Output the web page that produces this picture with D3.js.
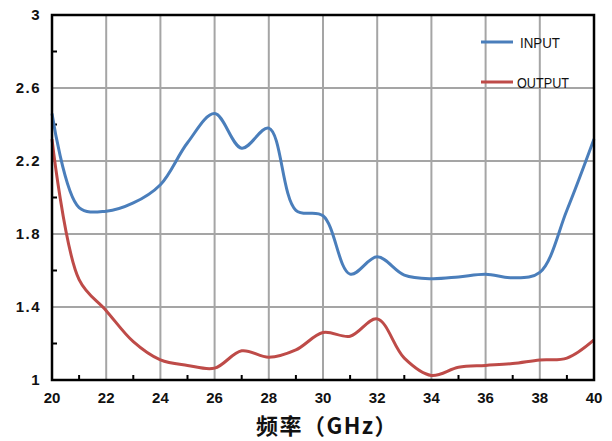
<!DOCTYPE html>
<html>
<head>
<meta charset="utf-8">
<script src="https://cdn.jsdelivr.net/npm/d3@7"></script>
<style>
  body { margin: 0; background: #fff; }
  .tick-label { font-family: "Liberation Sans", Arial, sans-serif; font-weight: bold; font-size: 15px; fill: #111; }
</style>
</head>
<body>
<script>
// frequency points (GHz)
var freq = [20, 21, 22, 23, 24, 25, 26, 27, 28, 29, 30, 31, 32, 33, 34, 35, 36, 37, 38, 39, 40];
// VSWR values
var inputVals = [2.46, 1.945, 1.925, 1.97, 2.07, 2.30, 2.46, 2.27, 2.38, 1.93, 1.90, 1.58, 1.675, 1.575, 1.555, 1.565, 1.58, 1.56, 1.59, 1.93, 2.32];
var outputVals = [2.32, 1.55, 1.38, 1.21, 1.11, 1.08, 1.065, 1.16, 1.125, 1.165, 1.26, 1.24, 1.335, 1.12, 1.025, 1.07, 1.08, 1.09, 1.11, 1.12, 1.22];
var xTicks = [20, 22, 24, 26, 28, 30, 32, 34, 36, 38, 40];
var yTicks = [1, 1.4, 1.8, 2.2, 2.6, 3];
var seriesNames = ["INPUT", "OUTPUT"];
var seriesColors = ["#4a7ebb", "#be4b48"];

window.onload = drawChart();

function drawChart() {
    var width = 612,
        height = 441;
    var margin = {left: 52, right: 18, top: 15, bottom: 61};

    var svg = d3.select("body")
        .append("svg")
        .attr("width", width)
        .attr("height", height);

    var x = d3.scaleLinear()
        .domain([20, 40])
        .range([margin.left, width - margin.right]);
    var y = d3.scaleLinear()
        .domain([1, 3])
        .range([height - margin.bottom, margin.top]);

    //grid lines
    svg.selectAll(".vgrid")
        .data(xTicks.slice(1, -1))
        .enter()
        .append("line")
        .attr("x1", function(d){ return x(d); })
        .attr("x2", function(d){ return x(d); })
        .attr("y1", y(1))
        .attr("y2", y(3))
        .attr("stroke", "#a5a5a5")
        .attr("stroke-width", 2);
    svg.selectAll(".hgrid")
        .data(yTicks.slice(1, -1))
        .enter()
        .append("line")
        .attr("x1", x(20))
        .attr("x2", x(40))
        .attr("y1", function(d){ return y(d); })
        .attr("y2", function(d){ return y(d); })
        .attr("stroke", "#a5a5a5")
        .attr("stroke-width", 2);

    //minor ticks pointing inwards
    var xMinor = d3.range(21, 40, 2);
    svg.selectAll(".xminor")
        .data(xMinor)
        .enter()
        .append("line")
        .attr("x1", function(d){ return x(d); })
        .attr("x2", function(d){ return x(d); })
        .attr("y1", y(1))
        .attr("y2", y(1) - 5)
        .attr("stroke", "#000")
        .attr("stroke-width", 2);
    var yMinor = [1.2, 1.6, 2.0, 2.4, 2.8];
    svg.selectAll(".yminor")
        .data(yMinor)
        .enter()
        .append("line")
        .attr("x1", x(20))
        .attr("x2", x(20) + 5)
        .attr("y1", function(d){ return y(d); })
        .attr("y2", function(d){ return y(d); })
        .attr("stroke", "#000")
        .attr("stroke-width", 2);

    //lines
    var line = d3.line()
        .x(function(d){ return x(d[0]); })
        .y(function(d){ return y(d[1]); })
        .curve(d3.curveCatmullRom.alpha(0.5));

    var series = [inputVals, outputVals];
    series.forEach(function(vals, i){
        svg.append("path")
            .datum(d3.zip(freq, vals))
            .attr("d", line)
            .attr("fill", "none")
            .attr("stroke", seriesColors[i])
            .attr("stroke-width", 3)
            .attr("stroke-linejoin", "round");
    });

    //frame
    svg.append("rect")
        .attr("x", x(20))
        .attr("y", y(3))
        .attr("width", x(40) - x(20))
        .attr("height", y(1) - y(3))
        .attr("fill", "none")
        .attr("stroke", "#000")
        .attr("stroke-width", 2.5);

    //tick labels
    svg.selectAll(".xlab")
        .data(xTicks)
        .enter()
        .append("text")
        .attr("class", "tick-label")
        .attr("x", function(d){ return x(d); })
        .attr("y", y(1) + 23)
        .attr("text-anchor", "middle")
        .text(function(d){ return d; });
    svg.selectAll(".ylab")
        .data(yTicks)
        .enter()
        .append("text")
        .attr("class", "tick-label")
        .attr("x", x(20) - 11)
        .attr("y", function(d){ return y(d) + 5; })
        .attr("text-anchor", "end")
        .attr("letter-spacing", 1.5)
        .text(function(d){ return d; });

    //axis title
    svg.append("text")
        .attr("x", 327)
        .attr("y", 434)
        .attr("text-anchor", "middle")
        .attr("font-family", "'Noto Sans CJK SC', sans-serif")
        .attr("font-weight", "bold")
        .attr("font-size", 22)
        .attr("letter-spacing", 1.5)
        .attr("fill", "#111")
        .text("频率（GHz）");

    //legend
    var legendY = [42, 82];
    var legendX = [520, 517];
    var legendW = [40, 52];
    seriesNames.forEach(function(name, i){
        svg.append("line")
            .attr("x1", 481)
            .attr("x2", 513)
            .attr("y1", legendY[i])
            .attr("y2", legendY[i])
            .attr("stroke", seriesColors[i])
            .attr("stroke-width", 3);
        svg.append("text")
            .attr("x", legendX[i])
            .attr("y", legendY[i] + 5.5)
            .attr("font-family", "'Liberation Sans', sans-serif")
            .attr("font-size", 15)
            .attr("textLength", legendW[i])
            .attr("lengthAdjust", "spacingAndGlyphs")
            .attr("fill", "#111")
            .text(name);
    });
}
</script>
</body>
</html>
